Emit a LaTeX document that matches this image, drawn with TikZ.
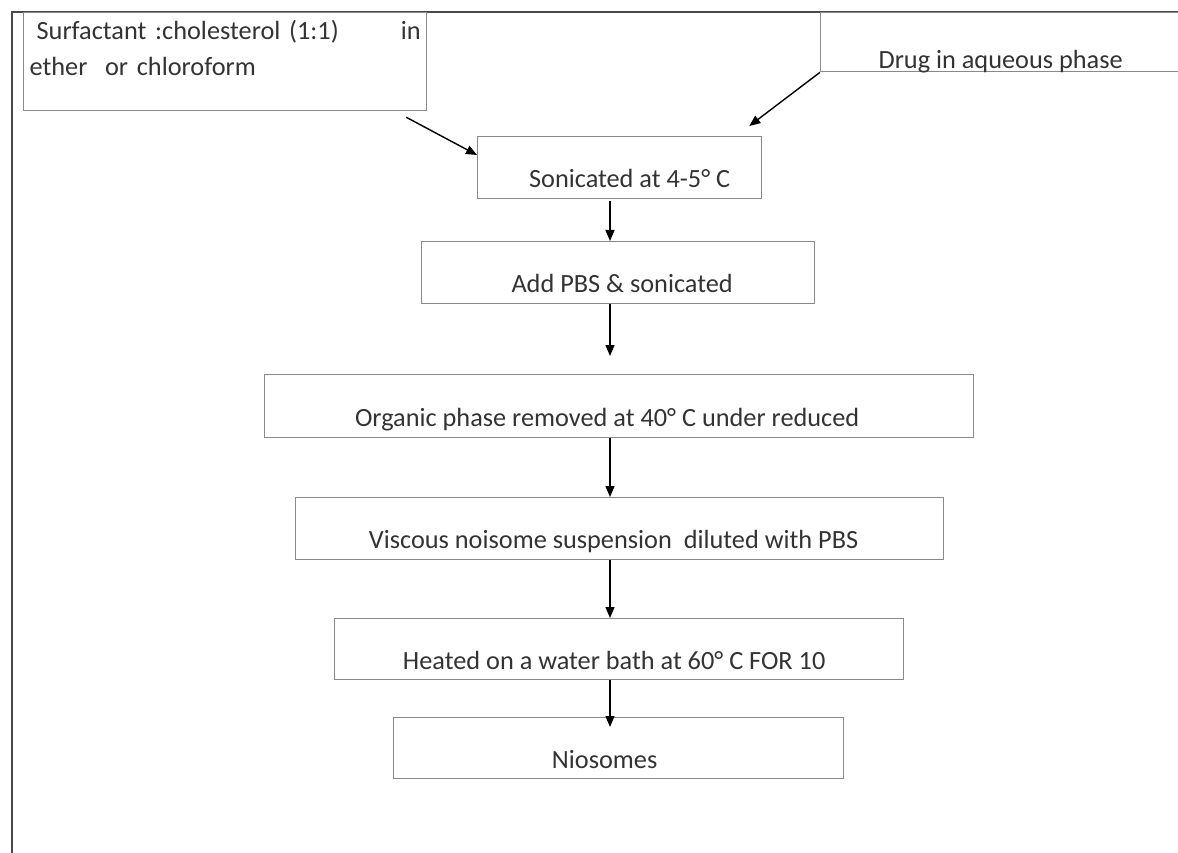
\documentclass[tikz,border=0pt]{standalone}
\usepackage{fontspec}
\setmainfont{Carlito}
\usetikzlibrary{positioning,arrows.meta,calc}
\definecolor{boxgray}{HTML}{8A8A8A}
\definecolor{inkgray}{HTML}{333333}
\definecolor{framegray}{HTML}{4A4A4A}

\begin{document}
\begin{tikzpicture}[
  x=1pt, y=-1pt,
  font=\fontsize{26.3}{36}\selectfont,
  stepbox/.style={draw=boxgray, line width=1.3pt, anchor=north west, inner sep=0pt,
              text height=50pt, text depth=10pt, text=inkgray},
  flow/.style={-{Triangle[length=11pt,width=9pt]}, line width=1.4pt, black},
]
  \useasboundingbox (0,0) rectangle (1178,853);
  \clip (0,0) rectangle (1178,853);

  % Page frame
  \draw[framegray, line width=1.5pt] (12,853) -- (12,12) -- (1178,12);

  % Inputs
  \node[stepbox, minimum width=403pt, text width=391pt, inner xsep=6pt,
        text height=27pt, text depth=71pt, align=left] (surf) at (23,12)
        {\hspace*{7pt}Surfactant :cholesterol (1:1)\hskip0pt plus1filll in\hspace*{10pt}\\
         ether\ \ or chloroform};
  \node[stepbox, minimum width=360pt, minimum height=59pt,
        text height=56pt, text depth=3pt] (drug) at (820,12) {Drug in aqueous phase};

  % Steps
  \node[stepbox, minimum width=284pt, minimum height=62pt] (sonic) at (477,136) {\hspace*{20pt}Sonicated at 4-5° C};
  \node[stepbox, minimum width=393pt, minimum height=62pt] (pbs) at (421,241) {\hspace*{8pt}Add PBS \& sonicated};
  \node[stepbox, minimum width=709pt, minimum height=63pt] (organic) at (264,374) {Organic phase removed at 40° C under reduced\hspace*{24pt}};
  \node[stepbox, minimum width=648pt, minimum height=62pt] (viscous) at (295,497) {Viscous noisome suspension\ \ diluted with PBS\hspace*{12pt}};
  \node[stepbox, minimum width=569pt, minimum height=61pt] (heated) at (334,618) {Heated on a water bath at 60° C FOR 10\hspace*{10pt}};
  \node[stepbox, minimum width=450pt, minimum height=61pt] (nio) at (393,717) {Niosomes\hspace*{28pt}};

  \coordinate (spine) at (610,0);

  \draw[flow] ([shift={(-21,6)}]surf.south east) -- ([shift={(0,19)}]sonic.north west);
  \draw[flow] (drug.south west) -- ([shift={(-13,-10)}]sonic.north east);
  \draw[flow] ($(sonic.south -| spine)+(0,2)$) -- (pbs.north -| spine);
  \draw[flow] (pbs.south -| spine) -- ($(organic.north -| spine)+(0,-18)$);
  \draw[flow] (organic.south -| spine) -- (viscous.north -| spine);
  \draw[flow] (viscous.south -| spine) -- (heated.north -| spine);
  \draw[flow] (heated.south -| spine) -- ($(nio.north -| spine)+(0,10)$);
\end{tikzpicture}
\end{document}
